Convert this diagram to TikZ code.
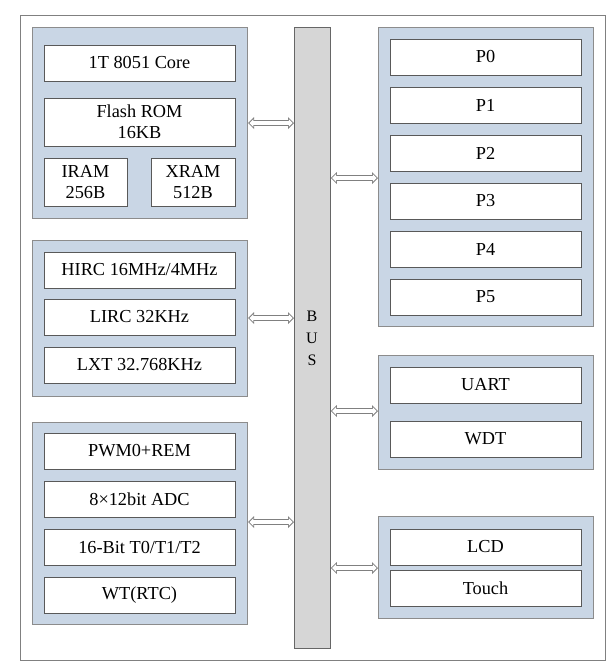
\documentclass[tikz,border=0pt]{standalone}
\usepackage{fontspec}
\setmainfont{Liberation Serif}
\usetikzlibrary{arrows.meta}

\definecolor{grpblue}{RGB}{201,214,229}
\definecolor{busgray}{RGB}{214,214,214}

\tikzset{
	grp/.style={draw=black!45, line width=1.2pt, fill=grpblue, anchor=north west, inner sep=0pt},
	blk/.style={draw=black!65, line width=0.9pt, fill=white, minimum width=191pt, minimum height=36pt, inner sep=0pt, align=center, font=\fontsize{18.3}{21}\selectfont},
	tipout/.tip={Triangle[length=6pt, width=12pt, line width=0pt]},
	tipin/.tip={Triangle[length=3.8pt, width=7.6pt, line width=0pt]},
	link/.style={draw=black!50, line width=6pt, {tipout}-{tipout},
		postaction={draw=white, line width=4.2pt, shorten <=1.3pt, shorten >=1.3pt, {tipin}-{tipin}}}
}

\begin{document}
\begin{tikzpicture}[x=1pt, y=-1pt]
\useasboundingbox (0,0) rectangle (616,667);
\draw[black!50, line width=0.9pt] (20,15) rectangle (605,660);

% bus
\node[draw=black!60, line width=0.9pt, fill=busgray, anchor=north west, minimum width=36pt, minimum height=621pt, inner sep=0pt] (bus) at (294,27) {};
\node[font=\fontsize{16}{22}\selectfont, align=center] (bustext) at (312,338) {B\\U\\S};

% left groups
\node[grp, minimum width=215pt, minimum height=191pt] (mem) at (32,27) {};
\node[blk] (core) at (139.5,63) {1T 8051 Core};
\node[blk, minimum height=48pt] (flash) at (139.5,122) {Flash ROM\\16KB};
\node[blk, minimum width=83pt, minimum height=48pt] (iram) at (85.5,182) {IRAM\\256B};
\node[blk, minimum width=84pt, minimum height=48pt] (xram) at (193,182) {XRAM\\512B};

\node[grp, minimum width=215pt, minimum height=156pt] (clk) at (32,240) {};
\node[blk] (hirc) at (139.5,270) {HIRC 16MHz/4MHz};
\node[blk] (lirc) at (139.5,317) {LIRC 32KHz};
\node[blk] (lxt) at (139.5,365) {LXT 32.768KHz};

\node[grp, minimum width=215pt, minimum height=202pt] (periph) at (32,422) {};
\node[blk] (pwm) at (139.5,451) {PWM0+REM};
\node[blk] (adc) at (139.5,499) {8×12bit ADC};
\node[blk] (timer) at (139.5,547) {16-Bit T0/T1/T2};
\node[blk] (wt) at (139.5,595) {WT(RTC)};

% right groups
\node[grp, minimum width=215pt, minimum height=299pt] (ports) at (378,27) {};
\foreach \i in {0,...,5} {
	\node[blk] (p\i) at (485.5,57+48*\i) {P\i};
}

\node[grp, minimum width=215pt, minimum height=114pt] (comm) at (378,355) {};
\node[blk] (uart) at (485.5,385) {UART};
\node[blk] (wdt) at (485.5,439) {WDT};

\node[grp, minimum width=215pt, minimum height=102pt] (disp) at (378,516) {};
\node[blk] (lcd) at (485.5,547) {LCD};
\node[blk] (touch) at (485.5,588) {Touch};

% links to bus
\draw[link] (mem.east |- 0,123) -- (bus.west |- 0,123);
\draw[link] (clk.east |- 0,318) -- (bus.west |- 0,318);
\draw[link] (periph.east |- 0,522) -- (bus.west |- 0,522);
\draw[link] (bus.east |- 0,178) -- (ports.west |- 0,178);
\draw[link] (bus.east |- 0,411) -- (comm.west |- 0,411);
\draw[link] (bus.east |- 0,568) -- (disp.west |- 0,568);
\end{tikzpicture}
\end{document}
